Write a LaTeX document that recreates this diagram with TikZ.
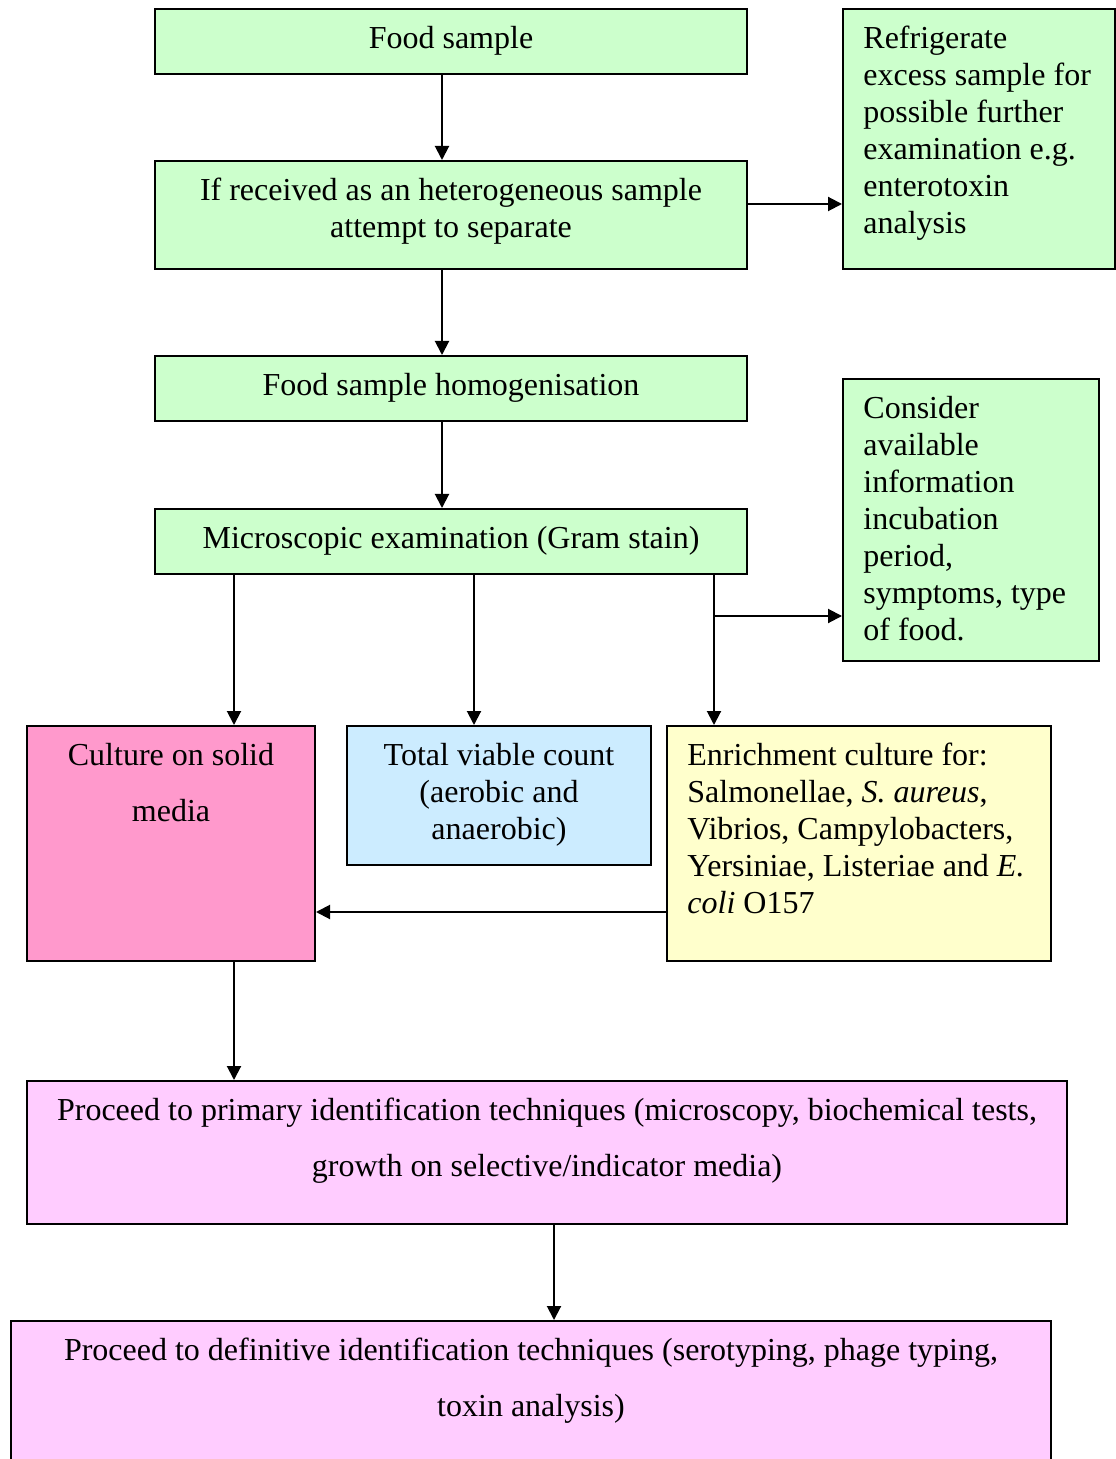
\documentclass[tikz,border=0pt]{standalone}
\usepackage{fontspec}
\setmainfont{Liberation Serif}
\usetikzlibrary{arrows.meta, positioning}

\definecolor{boxgreen}{HTML}{CCFFCC}
\definecolor{boxpink}{HTML}{FF99CC}
\definecolor{boxblue}{HTML}{CCECFF}
\definecolor{boxyellow}{HTML}{FFFFCC}
\definecolor{boxlilac}{HTML}{FFCCFF}
\newcommand{\ts}{\rule{0pt}{13pt}}

\begin{document}
\begin{tikzpicture}[
    x=0.5pt, y=-0.5pt, >={Triangle[length=7pt,width=7pt]},
    stage/.style ={rectangle, draw=black, line width=1pt, fill=boxgreen, anchor=north west, inner sep=0pt},
    midtxt/.style={anchor=north, inner sep=0pt, yshift=-7.2pt, align=center, font=\fontsize{16}{18.5}\selectfont},
    lefttxt/.style={anchor=north west, inner sep=0pt, xshift=10.5pt, yshift=-7.2pt, align=left, font=\fontsize{16}{18.5}\selectfont},
    widetxt/.style={midtxt, font=\fontsize{16}{28}\selectfont},
    link/.style  ={->, line width=1pt},
]
\useasboundingbox (0,0) rectangle (1115,1459);
\node[stage, minimum width=296pt, minimum height=32.5pt, label={[midtxt]north:{\ts Food sample}}] (food) at (154,8) {};
\node[stage, minimum width=296pt, minimum height=54pt, label={[midtxt]north:{\ts If received as an heterogeneous sample\\ attempt to separate}}] (heter) at (154,160) {};
\node[stage, minimum width=136pt, minimum height=130pt, label={[lefttxt]north west:{\ts Refrigerate\\ excess sample for\\ possible further\\ examination e.g.\\ enterotoxin\\ analysis}}] (fridge) at (842,8) {};
\node[stage, minimum width=296pt, minimum height=32.5pt, label={[midtxt]north:{\ts Food sample homogenisation}}] (homog) at (154,355) {};
\node[stage, minimum width=296pt, minimum height=32.5pt, label={[midtxt]north:{\ts Microscopic examination (Gram stain)}}] (micro) at (154,508) {};
\node[stage, minimum width=128pt, minimum height=141pt, label={[lefttxt]north west:{\ts Consider\\ available\\ information\\ incubation\\ period,\\ symptoms, type\\ of food.}}] (consider) at (842,378) {};
\node[stage, fill=boxpink, minimum width=144pt, minimum height=117.5pt, label={[widetxt]north:{\ts Culture on solid\\ media}}] (culture) at (26,725) {};
\node[stage, fill=boxblue, minimum width=152pt, minimum height=69.5pt, label={[midtxt]north:{\ts Total viable count\\ (aerobic and\\ anaerobic)}}] (tvc) at (346,725) {};
\node[stage, fill=boxyellow, minimum width=192pt, minimum height=117.5pt, label={[lefttxt]north west:{\ts Enrichment culture for:\\ Salmonellae, \textit{S. aureus},\\ Vibrios, Campylobacters,\\ Yersiniae, Listeriae and \textit{E.}\\ \textit{coli} O157}}] (enrich) at (666,725) {};
\node[stage, fill=boxlilac, minimum width=520pt, minimum height=71.5pt, label={[widetxt]north:{\ts Proceed to primary identification techniques (microscopy, biochemical tests,\\ growth on selective/indicator media)}}] (primary) at (26,1080) {};
\node[stage, fill=boxlilac, minimum width=520pt, minimum height=73pt, label={[widetxt]north:{\ts Proceed to definitive identification techniques (serotyping, phage typing,\\ toxin analysis)}}] (defin) at (10,1320) {};
% arrow positions
\coordinate (xa) at (442,0);
\coordinate (xb) at (234,0);
\coordinate (xc) at (474,0);
\coordinate (xd) at (714,0);
\coordinate (xe) at (554,0);
\coordinate (ya) at (0,204);
\coordinate (yb) at (0,616);
\coordinate (yc) at (0,912);
\draw[link] (food.south -| xa) -- (heter.north -| xa);
\draw[link] (heter.east |- ya) -- (fridge.west |- ya);
\draw[link] (heter.south -| xa) -- (homog.north -| xa);
\draw[link] (homog.south -| xa) -- (micro.north -| xa);
\draw[link] (micro.south -| xb) -- (culture.north -| xb);
\draw[link] (micro.south -| xc) -- (tvc.north -| xc);
\draw[link] (micro.south -| xd) -- (enrich.north -| xd);
\draw[link] (xd |- yb) -- (consider.west |- yb);
\draw[link] (enrich.west |- yc) -- (culture.east |- yc);
\draw[link] (culture.south -| xb) -- (primary.north -| xb);
\draw[link] (primary.south -| xe) -- (defin.north -| xe);
\end{tikzpicture}
\end{document}
